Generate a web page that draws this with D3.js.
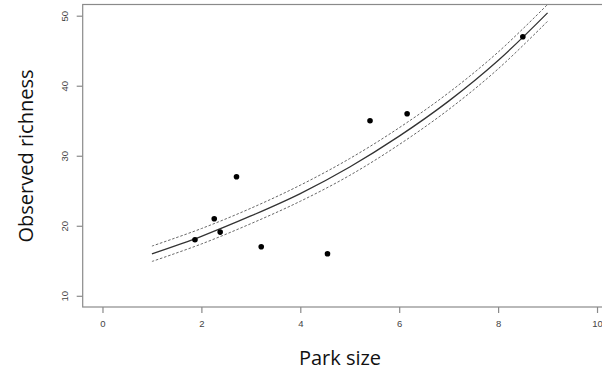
<!DOCTYPE html>
<html><head><meta charset="utf-8">
<script src="https://cdn.jsdelivr.net/npm/d3@7"></script>
<style>
body{margin:0;background:#fff;}
svg{display:block;}
</style></head>
<body>
<svg id="chart" width="602" height="373"></svg>
<script>
// Observed data (park size vs observed richness)
const parkSize = [1.87, 2.26, 2.38, 2.71, 3.21, 4.55, 5.41, 6.16, 8.50];
const richness = [18.0, 21.0, 19.1, 27.0, 17.0, 16.0, 35.0, 36.0, 47.0];

// Fitted curve and confidence band at x = 1..9
const fitX  = [1, 2, 3, 4, 5, 6, 7, 8, 9];
const fitY  = [16.0, 18.5, 21.4, 24.6, 28.4, 32.8, 37.8, 43.6, 50.4];
const upperY = [17.1, 19.6, 22.5, 25.8, 29.6, 34.0, 39.0, 44.8, 51.6];
const lowerY = [14.9, 17.4, 20.3, 23.5, 27.2, 31.6, 36.6, 42.4, 49.2];

const xTicks = [0, 2, 4, 6, 8, 10];
const yTicks = [10, 20, 30, 40, 50];
const xTitle = "Park size";
const yTitle = "Observed richness";

const svg = d3.select("#chart");
const pLeft = 82.7, pRight = 616.8, pTop = 4.5, pBottom = 307;

const x = d3.scaleLinear().domain([-0.4, 10.4]).range([pLeft, pRight]);
const y = d3.scaleLinear().domain([8.4, 51.6]).range([pBottom, pTop]);

svg.append("defs").append("clipPath").attr("id", "plotclip")
  .append("rect").attr("x", pLeft).attr("y", pTop)
  .attr("width", pRight - pLeft).attr("height", pBottom - pTop);

const axisColor = "#8a8a8a";

// x axis
const gx = svg.append("g").attr("transform", `translate(0,${pBottom})`)
  .call(d3.axisBottom(x).tickValues(xTicks).tickSize(6).tickPadding(7).tickFormat(d3.format("d")));
gx.select(".domain").remove();
gx.selectAll("line").attr("stroke", axisColor).attr("stroke-width", 1.2);
gx.selectAll("text").attr("font-family", "Liberation Sans, Arial, sans-serif")
  .attr("font-size", 9.5).attr("fill", "#444");

// y axis
const gy = svg.append("g").attr("transform", `translate(${pLeft},0)`)
  .call(d3.axisLeft(y).tickValues(yTicks).tickSize(6).tickFormat(d3.format("d")));
gy.select(".domain").remove();
gy.selectAll("line").attr("stroke", axisColor).attr("stroke-width", 1.2);
gy.selectAll("text")
  .attr("x", null).attr("dy", null)
  .attr("text-anchor", "middle")
  .attr("transform", "translate(-14.5,0) rotate(-90)")
  .attr("font-family", "Liberation Sans, Arial, sans-serif")
  .attr("font-size", 9.5).attr("fill", "#444");

// box
svg.append("rect").attr("x", pLeft).attr("y", pTop)
  .attr("width", pRight - pLeft).attr("height", pBottom - pTop)
  .attr("fill", "none").attr("stroke", axisColor).attr("stroke-width", 1.2);

const plot = svg.append("g").attr("clip-path", "url(#plotclip)");

const line = d3.line().x(d => x(d[0])).y(d => y(d[1])).curve(d3.curveCatmullRom);

plot.append("path").datum(d3.zip(fitX, upperY)).attr("d", line)
  .attr("fill", "none").attr("stroke", "#666").attr("stroke-width", 1)
  .attr("stroke-dasharray", "2.5,1.8");
plot.append("path").datum(d3.zip(fitX, lowerY)).attr("d", line)
  .attr("fill", "none").attr("stroke", "#666").attr("stroke-width", 1)
  .attr("stroke-dasharray", "2.5,1.8");
plot.append("path").datum(d3.zip(fitX, fitY)).attr("d", line)
  .attr("fill", "none").attr("stroke", "#333").attr("stroke-width", 1.3);

plot.selectAll("circle").data(d3.zip(parkSize, richness)).join("circle")
  .attr("cx", d => x(d[0])).attr("cy", d => y(d[1])).attr("r", 2.8)
  .attr("fill", "#000");

// titles
svg.append("text").attr("x", 340).attr("y", 365).attr("text-anchor", "middle")
  .attr("font-family", "Open Sans, sans-serif").attr("font-size", 20)
  .attr("fill", "#111").text(xTitle);
svg.append("text").attr("transform", "translate(33,156) rotate(-90)")
  .attr("text-anchor", "middle")
  .attr("font-family", "Open Sans, sans-serif").attr("font-size", 20)
  .attr("fill", "#111").text(yTitle);
</script>
</body></html>
